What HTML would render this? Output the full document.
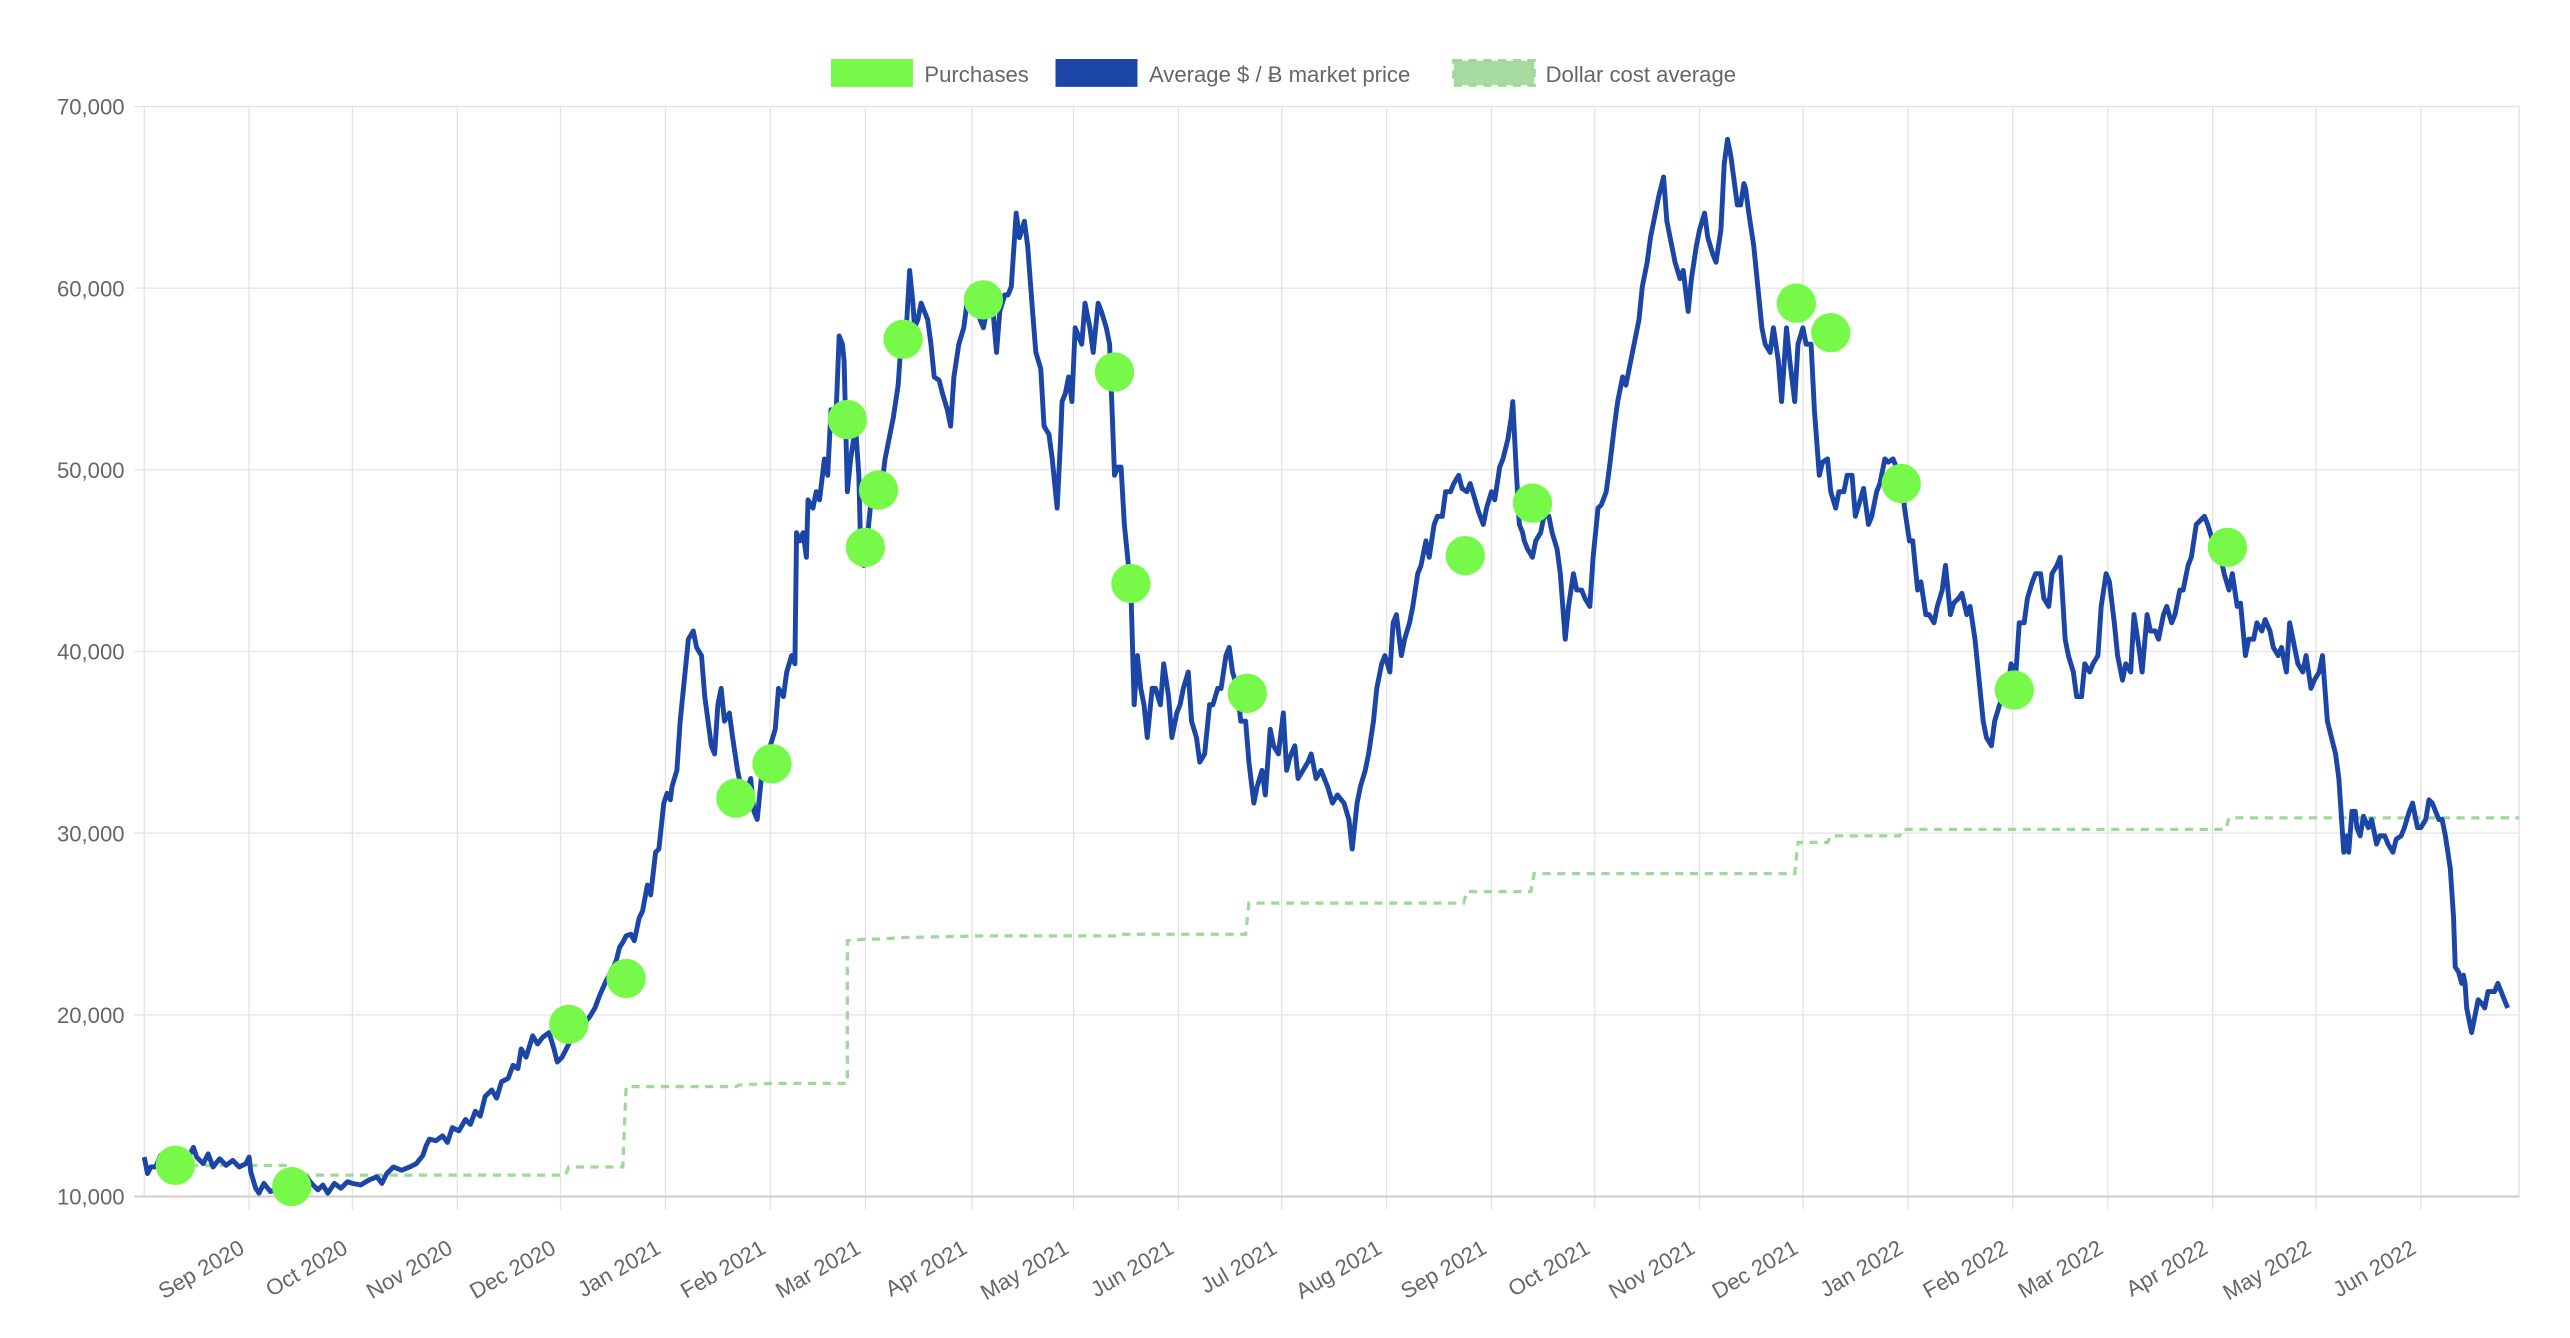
<!DOCTYPE html>
<html><head><meta charset="utf-8"><style>
html,body{margin:0;padding:0;background:#fff;}
svg{display:block;}
text{font-family:"Liberation Sans",Arial,sans-serif;fill:#666;}
</style></head><body>
<svg width="2570" height="1338" viewBox="0 0 2570 1338" xmlns="http://www.w3.org/2000/svg">
<g transform="scale(1.639)">
<g stroke="#e3e3e3" stroke-width="0.8">
<line x1="82" y1="65" x2="1537" y2="65"/>
<line x1="82" y1="175.8" x2="1537" y2="175.8"/>
<line x1="82" y1="286.7" x2="1537" y2="286.7"/>
<line x1="82" y1="397.5" x2="1537" y2="397.5"/>
<line x1="82" y1="508.3" x2="1537" y2="508.3"/>
<line x1="82" y1="619.2" x2="1537" y2="619.2"/>
</g>
<g stroke="#e3e3e3" stroke-width="0.8">
<line x1="88" y1="65" x2="88" y2="730"/>
<line x1="152" y1="65" x2="152" y2="738"/><line x1="215" y1="65" x2="215" y2="738"/>
<line x1="279" y1="65" x2="279" y2="738"/><line x1="342" y1="65" x2="342" y2="738"/>
<line x1="406" y1="65" x2="406" y2="738"/><line x1="470" y1="65" x2="470" y2="738"/>
<line x1="528" y1="65" x2="528" y2="738"/><line x1="593" y1="65" x2="593" y2="738"/>
<line x1="655" y1="65" x2="655" y2="738"/><line x1="719" y1="65" x2="719" y2="738"/>
<line x1="782" y1="65" x2="782" y2="738"/><line x1="846" y1="65" x2="846" y2="738"/>
<line x1="910" y1="65" x2="910" y2="738"/><line x1="973" y1="65" x2="973" y2="738"/>
<line x1="1037" y1="65" x2="1037" y2="738"/><line x1="1100" y1="65" x2="1100" y2="738"/>
<line x1="1164" y1="65" x2="1164" y2="738"/><line x1="1228" y1="65" x2="1228" y2="738"/>
<line x1="1286" y1="65" x2="1286" y2="738"/><line x1="1350" y1="65" x2="1350" y2="738"/>
<line x1="1413" y1="65" x2="1413" y2="738"/><line x1="1477" y1="65" x2="1477" y2="738"/>
<line x1="1537" y1="65" x2="1537" y2="730"/>
</g>
<line x1="82" y1="730" x2="1537" y2="730" stroke="#ccc" stroke-width="1.2"/>
<g font-size="13.5" text-anchor="end">
<text x="76" y="70">70,000</text>
<text x="76" y="180.8">60,000</text>
<text x="76" y="291.7">50,000</text>
<text x="76" y="402.5">40,000</text>
<text x="76" y="513.3">30,000</text>
<text x="76" y="624.2">20,000</text>
<text x="76" y="735">10,000</text>
</g>
<g font-size="13.5" text-anchor="end">
<text transform="translate(150,764) rotate(-30)">Sep 2020</text>
<text transform="translate(213,764) rotate(-30)">Oct 2020</text>
<text transform="translate(277,764) rotate(-30)">Nov 2020</text>
<text transform="translate(340,764) rotate(-30)">Dec 2020</text>
<text transform="translate(404,764) rotate(-30)">Jan 2021</text>
<text transform="translate(468,764) rotate(-30)">Feb 2021</text>
<text transform="translate(526,764) rotate(-30)">Mar 2021</text>
<text transform="translate(591,764) rotate(-30)">Apr 2021</text>
<text transform="translate(653,764) rotate(-30)">May 2021</text>
<text transform="translate(717,764) rotate(-30)">Jun 2021</text>
<text transform="translate(780,764) rotate(-30)">Jul 2021</text>
<text transform="translate(844,764) rotate(-30)">Aug 2021</text>
<text transform="translate(908,764) rotate(-30)">Sep 2021</text>
<text transform="translate(971,764) rotate(-30)">Oct 2021</text>
<text transform="translate(1035,764) rotate(-30)">Nov 2021</text>
<text transform="translate(1098,764) rotate(-30)">Dec 2021</text>
<text transform="translate(1162,764) rotate(-30)">Jan 2022</text>
<text transform="translate(1226,764) rotate(-30)">Feb 2022</text>
<text transform="translate(1284,764) rotate(-30)">Mar 2022</text>
<text transform="translate(1348,764) rotate(-30)">Apr 2022</text>
<text transform="translate(1411,764) rotate(-30)">May 2022</text>
<text transform="translate(1475,764) rotate(-30)">Jun 2022</text>
</g>
<polyline fill="none" stroke="#9ed99a" stroke-width="2" stroke-dasharray="5,4" points="107,711 178,711 180,717 345,717 347,712 380,712 382,663 449,663 451,662 471,661 517,661 517,574 528,573 536,573 551,572 600,571 680,571 682,570 760,570 762,551 893,551 895,544 934,544 936,533 1095,533 1097,514 1115,514 1117,510 1159,510 1161,506 1358,506 1360,499 1537,499"/>
<polyline fill="none" stroke="#1b45a6" stroke-width="3" stroke-linejoin="round" points="88,706 90,716 92,712 95,712 98,705 101,708 105,705 110,702 114,708 118,700 120,706 124,710 127,704 130,712 134,707 138,711 142,708 146,712 150,710 152,706 153,715 156,725 158,728 161,722 165,727 170,725 174,720 177,724 180,720 184,724 187,718 190,722 194,726 197,723 200,728 204,722 208,725 212,721 215,722 220,723 225,720 230,718 233,722 236,716 240,712 245,714 250,712 254,710 258,705 260,699 262,695 266,696 270,693 273,697 276,688 280,690 284,683 287,686 290,678 293,681 296,669 300,665 303,670 306,660 310,658 313,650 316,652 318,640 321,645 325,632 328,637 331,633 335,630 338,640 340,648 343,645 347,637 350,628 353,633 356,625 360,620 363,615 366,607 370,598 373,593 376,586 378,578 380,575 382,571 385,570 387,574 390,560 392,556 395,540 397,546 400,520 402,518 405,490 407,484 409,488 410,480 413,470 415,440 418,410 420,390 423,385 425,395 428,400 430,425 432,440 434,455 436,460 438,430 440,420 442,440 445,435 447,450 450,470 452,480 455,485 458,475 460,495 462,500 465,470 468,472 470,455 473,445 475,420 478,425 480,410 483,400 485,405 486,325 488,330 490,325 492,340 493,305 496,310 498,300 500,305 503,280 505,290 507,250 510,255 512,205 514,210 515,220 517,300 519,280 522,260 524,290 525,330 527,345 528,340 531,310 533,300 535,295 537,305 540,280 542,270 545,255 548,235 550,205 553,200 555,165 557,185 558,200 560,195 562,185 564,190 566,195 568,210 570,230 573,232 575,240 578,250 580,260 582,230 585,210 588,200 590,185 593,175 595,175 598,195 600,200 603,185 605,180 608,215 610,190 613,180 615,180 617,175 620,130 622,145 625,135 627,150 630,190 632,215 635,225 637,260 640,265 642,280 645,310 647,270 648,245 650,240 652,230 654,245 656,200 658,205 660,210 662,185 665,200 667,215 670,185 672,190 675,200 677,210 680,290 682,285 684,285 686,320 688,340 690,360 692,430 694,400 696,420 698,430 700,450 703,420 705,420 708,430 710,405 713,425 715,450 718,435 720,430 722,420 725,410 727,440 730,450 732,465 735,460 738,430 740,430 743,420 745,420 748,400 750,395 752,410 755,420 757,440 760,440 762,465 765,490 767,480 770,470 772,485 775,445 777,455 780,460 783,435 785,470 787,462 790,455 792,475 795,470 798,465 800,460 803,475 806,470 810,480 813,490 816,485 820,490 823,500 825,518 828,490 830,480 833,470 835,460 838,440 840,420 843,405 845,400 848,410 850,380 852,375 855,400 857,390 860,380 862,370 865,350 867,345 870,330 872,340 875,320 877,315 880,315 882,300 885,300 887,295 890,290 892,298 895,300 897,295 900,305 902,312 905,320 907,310 910,300 912,305 915,285 917,280 920,268 922,255 923,245 925,285 927,320 929,325 930,330 932,335 935,340 937,330 940,325 942,315 945,315 947,325 950,335 952,350 955,390 957,370 960,350 962,360 965,360 967,365 970,370 972,340 975,310 977,308 980,300 982,285 985,260 987,245 990,230 992,235 995,220 997,210 1000,195 1002,175 1005,160 1007,145 1010,130 1012,120 1015,108 1017,135 1020,150 1022,160 1025,170 1027,165 1030,190 1032,170 1035,150 1037,140 1040,130 1042,145 1045,155 1047,160 1050,140 1052,100 1054,85 1056,95 1058,110 1060,125 1062,125 1064,112 1065,115 1067,130 1070,150 1072,170 1075,200 1077,210 1080,215 1082,200 1085,220 1087,245 1090,200 1092,220 1095,245 1097,210 1100,200 1102,210 1105,210 1107,250 1110,290 1112,282 1115,280 1117,300 1120,310 1122,300 1125,300 1127,290 1130,290 1132,315 1135,305 1137,298 1140,320 1142,315 1145,300 1147,295 1150,280 1152,282 1155,280 1157,285 1160,290 1162,310 1165,330 1167,330 1170,360 1172,355 1175,375 1177,375 1180,380 1182,370 1185,360 1187,345 1190,375 1192,368 1195,365 1197,362 1200,375 1202,370 1205,390 1207,410 1210,440 1212,450 1215,455 1217,440 1220,430 1222,425 1225,420 1227,405 1230,410 1232,380 1235,380 1237,365 1240,355 1242,350 1245,350 1247,365 1250,370 1252,350 1255,345 1257,340 1260,390 1262,400 1265,410 1267,425 1270,425 1272,405 1275,410 1277,405 1280,400 1282,370 1285,350 1287,355 1290,380 1292,400 1295,415 1297,405 1300,410 1302,375 1305,395 1307,410 1310,375 1312,385 1315,385 1317,390 1320,375 1322,370 1325,380 1327,375 1330,360 1332,360 1335,345 1337,340 1340,320 1342,318 1345,315 1347,320 1350,330 1352,340 1355,340 1357,350 1360,360 1362,350 1365,370 1367,368 1370,400 1372,390 1375,390 1377,380 1380,385 1382,378 1385,385 1387,395 1390,400 1392,395 1395,410 1397,380 1400,395 1402,405 1405,410 1407,400 1410,420 1412,415 1415,410 1417,400 1420,440 1422,448 1425,460 1427,475 1428,490 1429,505 1430,520 1432,510 1433,520 1435,495 1437,495 1438,505 1440,510 1442,498 1445,505 1447,500 1450,515 1452,510 1455,510 1457,515 1460,520 1462,512 1465,510 1467,505 1470,495 1472,490 1475,505 1477,505 1480,500 1482,488 1484,490 1486,495 1488,500 1490,500 1492,510 1495,530 1497,560 1498,590 1500,593 1502,600 1503,595 1504,600 1505,615 1507,625 1508,630 1510,620 1512,610 1514,612 1516,615 1518,605 1520,605 1522,605 1524,600 1526,605 1528,610 1530,615"/>
<g fill="#77f94a">
<circle cx="107" cy="711" r="12"/><circle cx="178" cy="724" r="12"/>
<circle cx="347" cy="625" r="12"/><circle cx="382" cy="597" r="12"/>
<circle cx="449" cy="487" r="12"/><circle cx="471" cy="466" r="12"/>
<circle cx="517" cy="256" r="12"/><circle cx="528" cy="334" r="12"/>
<circle cx="536" cy="299" r="12"/><circle cx="551" cy="207" r="12"/>
<circle cx="600" cy="183" r="12"/><circle cx="680" cy="227" r="12"/>
<circle cx="690" cy="356" r="12"/><circle cx="761" cy="423" r="12"/>
<circle cx="894" cy="339" r="12"/><circle cx="935" cy="307" r="12"/>
<circle cx="1096" cy="185" r="12"/><circle cx="1117" cy="203" r="12"/>
<circle cx="1160" cy="295" r="12"/><circle cx="1229" cy="421" r="12"/>
<circle cx="1359" cy="334" r="12"/>
</g>
<rect x="507" y="36" width="50" height="17" fill="#77f94a"/>
<text x="564" y="50" font-size="13.5">Purchases</text>
<rect x="644" y="36" width="50" height="17" fill="#1b45a6"/>
<text x="701" y="50" font-size="13.5">Average $ / Ƀ market price</text>
<rect x="887" y="37" width="49" height="15" fill="#a6dca0" stroke="#9ed99a" stroke-width="2" stroke-dasharray="5,4"/>
<text x="943" y="50" font-size="13.5">Dollar cost average</text>
</g>
</svg>
</body></html>
